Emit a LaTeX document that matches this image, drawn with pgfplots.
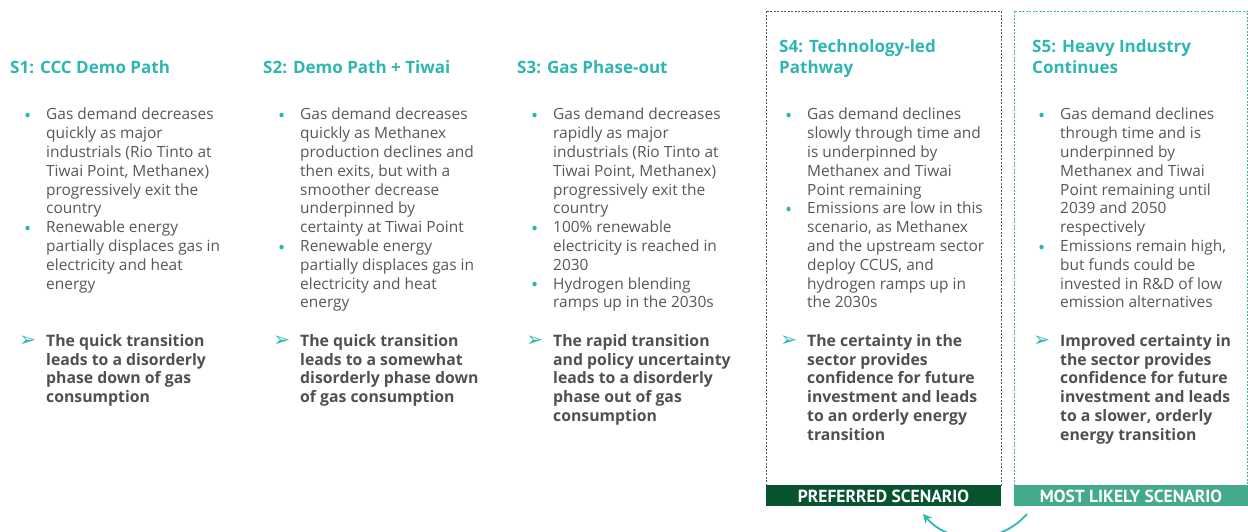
\documentclass[border=0pt]{standalone}
\usepackage{pgfplots}
\pgfplotsset{compat=1.18}
\usepackage{fontspec}
\setmainfont{Open Sans}
\newfontfamily\dejavu{DejaVu Sans}
\newfontfamily\bannerfont{PT Sans}
\usetikzlibrary{arrows.meta}

\definecolor{tealc}{HTML}{2EB6B0}
\definecolor{bodyc}{HTML}{575757}
\definecolor{darkg}{HTML}{07542F}
\definecolor{lightg}{HTML}{43AA8B}
\definecolor{boxdark}{HTML}{3E6655}

% bullet and arrow markers hung in the left margin
\newcommand{\bul}{\llap{\raisebox{-2.5pt}{\textcolor{tealc}{\fontsize{19}{10}\selectfont•}}\hspace{15pt}}}
\newcommand{\arr}{\llap{\raisebox{-0.5pt}{\dejavu\fontsize{20}{13}\selectfont\textcolor{tealc}{➢}}\hspace{10pt}}}

\tikzset{
    scen/.style={anchor=north west, inner sep=0pt, align=left, text=tealc,
        font=\fontsize{17}{21}\selectfont\bfseries},
    body/.style={anchor=north west, inner sep=0pt, align=left, text=bodyc,
        font=\fontsize{15.45}{18.8}\selectfont},
    concl/.style={anchor=north west, inner sep=0pt, align=left, text=bodyc!92!black,
        font=\fontsize{15.8}{18.8}\selectfont\bfseries},
    banner/.style={text=white, font=\bannerfont\fontsize{17.5}{17}\selectfont\bfseries},
}

\begin{document}
\begin{tikzpicture}
\path[use as bounding box] (0,0) rectangle (1248pt,531pt);
\clip (0,0) rectangle (1248pt,531pt);
\begin{axis}[
    width=1248pt, height=531pt, scale only axis,
    xmin=0, xmax=1248, ymin=0, ymax=531,
    y dir=reverse, hide axis, clip=false,
]
    % framed boxes for S4 and S5
    \draw[boxdark, line width=0.8pt, dash pattern=on 2pt off 1.5pt] (axis cs:766,11) rectangle (axis cs:1001,486);
    \draw[tealc, line width=0.8pt, dash pattern=on 2pt off 1.5pt] (axis cs:1014,11) rectangle (axis cs:1247.5,486);
    \fill[darkg] (axis cs:766,485) rectangle (axis cs:1001,506);
    \fill[lightg] (axis cs:1014,485) rectangle (axis cs:1248,506);
    \node[banner] at (axis cs:883.5,496) {PREFERRED SCENARIO};
    \node[banner] at (axis cs:1131,496) {MOST LIKELY SCENARIO};
    \draw[tealc, line width=1.8pt, -{Stealth[length=9pt, width=9pt]}]
        (axis cs:1027,514) .. controls (axis cs:1000,545) and (axis cs:950,545) .. (axis cs:923,514);

    % S1
    \node[scen] at (axis cs:10,60) {S1: CCC Demo Path};
    \node[body] at (axis cs:46,108) {\bul Gas demand decreases\\quickly as major\\industrials (Rio Tinto at\\Tiwai Point, Methanex)\\progressively exit the\\country\\
        \bul Renewable energy\\partially displaces gas in\\electricity and heat\\energy};
    \node[concl] at (axis cs:46,334) {\arr The quick transition\\leads to a disorderly\\phase down of gas\\consumption};

    % S2
    \node[scen] at (axis cs:263,60) {S2: Demo Path + Tiwai};
    \node[body] at (axis cs:300,108) {\bul Gas demand decreases\\quickly as Methanex\\production declines and\\then exits, but with a\\smoother decrease\\underpinned by\\certainty at Tiwai Point\\
        \bul Renewable energy\\partially displaces gas in\\electricity and heat\\energy};
    \node[concl] at (axis cs:300,334) {\arr The quick transition\\leads to a somewhat\\disorderly phase down\\of gas consumption};

    % S3
    \node[scen] at (axis cs:517,60) {S3: Gas Phase-out};
    \node[body] at (axis cs:553,108) {\bul Gas demand decreases\\rapidly as major\\industrials (Rio Tinto at\\Tiwai Point, Methanex)\\progressively exit the\\country\\
        \bul 100\% renewable\\electricity is reached in\\2030\\
        \bul Hydrogen blending\\ramps up in the 2030s};
    \node[concl] at (axis cs:553,334) {\arr The rapid transition\\and policy uncertainty\\leads to a disorderly\\phase out of gas\\consumption};

    % S4
    \node[scen] at (axis cs:779,39) {S4: Technology-led\\Pathway};
    \node[body] at (axis cs:807,108) {\bul Gas demand declines\\slowly through time and\\is underpinned by\\Methanex and Tiwai\\Point remaining\\
        \bul Emissions are low in this\\scenario, as Methanex\\and the upstream sector\\deploy CCUS, and\\hydrogen ramps up in\\the 2030s};
    \node[concl] at (axis cs:807,334) {\arr The certainty in the\\sector provides\\confidence for future\\investment and leads\\to an orderly energy\\transition};

    % S5
    \node[scen] at (axis cs:1032,39) {S5: Heavy Industry\\Continues};
    \node[body] at (axis cs:1060,108) {\bul Gas demand declines\\through time and is\\underpinned by\\Methanex and Tiwai\\Point remaining until\\2039 and 2050\\respectively\\
        \bul Emissions remain high,\\but funds could be\\invested in R\&D of low\\emission alternatives};
    \node[concl] at (axis cs:1060,334) {\arr Improved certainty in\\the sector provides\\confidence for future\\investment and leads\\to a slower, orderly\\energy transition};
\end{axis}
\end{tikzpicture}
\end{document}
